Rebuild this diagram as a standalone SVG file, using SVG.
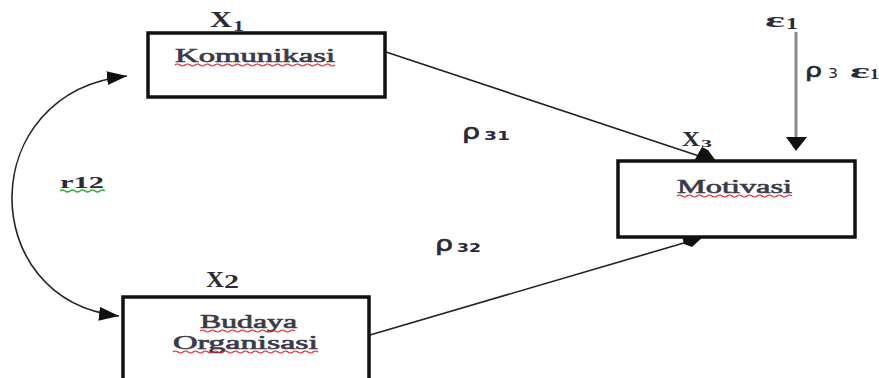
<svg xmlns="http://www.w3.org/2000/svg" width="879" height="378" viewBox="0 0 879 378">
  <defs>
    <style>
      .box { fill: #ffffff; stroke: #111; stroke-width: 3.5; }
      .lbl { font-family: "Liberation Serif", "DejaVu Serif", serif; fill: #2a2a35; }
      .name { fill: #3a3a48; stroke: #3a3a48; stroke-width: 0.6; }
      .sym { font-family: "DejaVu Sans", "Liberation Sans", sans-serif; fill: #2a2a35; }
      .rho { stroke: #2a2a35; stroke-width: 0.7; }
      .edge { fill: none; stroke: #222; stroke-width: 1.6; }
      .wavy-red { fill: none; stroke: #e0202a; stroke-width: 1.2; }
      .wavy-green { fill: none; stroke: #2fae3a; stroke-width: 1.4; }
    </style>
    <marker id="head" viewBox="0 0 20 14" refX="20" refY="7" markerWidth="20" markerHeight="14" markerUnits="userSpaceOnUse" orient="auto-start-reverse">
      <path d="M0,0 L20,7 L0,14 Z" fill="#111"/>
    </marker>
  </defs>

  <!-- connectors -->
  <g id="connectors">
    <!-- r12: two-headed correlation curve -->
    <path class="edge" d="M127,76 C-25,92 -25,300 119,316" marker-start="url(#head)" marker-end="url(#head)"/>
    <!-- Komunikasi -> Motivasi -->
    <line class="edge" x1="386" y1="52" x2="702" y2="157"/>
    <polygon points="694,161 702,147 708,150 716,161" fill="#111"/>
    <!-- Budaya Organisasi -> Motivasi -->
    <line class="edge" x1="370" y1="335" x2="694" y2="240"/>
    <polygon points="682,236 704,236 692,247 684,244" fill="#111"/>
    <!-- error term -> Motivasi -->
    <line x1="796" y1="32" x2="796" y2="139" stroke="#8a8a8a" stroke-width="3"/>
    <polygon points="786,137 807,137 796,151" fill="#111"/>
  </g>

  <!-- node: Komunikasi (X1) -->
  <g id="komunikasi">
    <rect class="box" x="148" y="33" width="237" height="64"/>
    <text class="lbl" x="210" y="27" font-size="23" font-weight="bold" textLength="22" lengthAdjust="spacingAndGlyphs">X</text>
    <text class="lbl" x="233" y="31" font-size="15" font-weight="bold" textLength="11" lengthAdjust="spacingAndGlyphs">1</text>
    <text class="lbl name" x="175" y="62" font-size="18" textLength="160" lengthAdjust="spacingAndGlyphs">Komunikasi</text>
    <path class="wavy-red" d="M175,65 q2.5,-2 5,0 t5,0 t5,0 t5,0 t5,0 t5,0 t5,0 t5,0 t5,0 t5,0 t5,0 t5,0 t5,0 t5,0 t5,0 t5,0 t5,0 t5,0 t5,0 t5,0 t5,0 t5,0 t5,0 t5,0 t5,0 t5,0 t5,0 t5,0 t5,0 t5,0 t5,0 t5,0"/>
  </g>

  <!-- node: Budaya Organisasi (X2) -->
  <g id="budaya-organisasi">
    <rect class="box" x="123" y="297" width="246" height="95"/>
    <text class="lbl" x="206" y="287" font-size="23" font-weight="bold" textLength="18" lengthAdjust="spacingAndGlyphs">X</text>
    <text class="lbl" x="224" y="288" font-size="18" font-weight="bold" textLength="15" lengthAdjust="spacingAndGlyphs">2</text>
    <text class="lbl name" x="200" y="328" font-size="18" textLength="97" lengthAdjust="spacingAndGlyphs">Budaya</text>
    <path class="wavy-red" d="M200,331 q2.5,-2 5,0 t5,0 t5,0 t5,0 t5,0 t5,0 t5,0 t5,0 t5,0 t5,0 t5,0 t5,0 t5,0 t5,0 t5,0 t5,0 t5,0 t5,0 t5,0"/>
    <text class="lbl name" x="173" y="349" font-size="18" textLength="145" lengthAdjust="spacingAndGlyphs">Organisasi</text>
    <path class="wavy-red" d="M173,352 q2.5,-2 5,0 t5,0 t5,0 t5,0 t5,0 t5,0 t5,0 t5,0 t5,0 t5,0 t5,0 t5,0 t5,0 t5,0 t5,0 t5,0 t5,0 t5,0 t5,0 t5,0 t5,0 t5,0 t5,0 t5,0 t5,0 t5,0 t5,0 t5,0 t5,0"/>
  </g>

  <!-- node: Motivasi (X3) -->
  <g id="motivasi">
    <rect class="box" x="618" y="161" width="237" height="76"/>
    <text class="lbl" x="682" y="146" font-size="20" font-weight="bold" textLength="18" lengthAdjust="spacingAndGlyphs">X</text>
    <text class="lbl" x="701" y="147" font-size="10" font-weight="bold" textLength="11" lengthAdjust="spacingAndGlyphs">3</text>
    <text class="lbl name" x="677" y="193" font-size="18" textLength="115" lengthAdjust="spacingAndGlyphs">Motivasi</text>
    <path class="wavy-red" d="M677,196 q2.5,-2 5,0 t5,0 t5,0 t5,0 t5,0 t5,0 t5,0 t5,0 t5,0 t5,0 t5,0 t5,0 t5,0 t5,0 t5,0 t5,0 t5,0 t5,0 t5,0 t5,0 t5,0 t5,0 t5,0"/>
  </g>

  <!-- node: error term -->
  <g id="epsilon">
    <text class="lbl" x="765" y="27" font-size="22" font-weight="bold" textLength="20" lengthAdjust="spacingAndGlyphs">ε</text>
    <text class="lbl" x="786" y="29" font-size="16" font-weight="bold" textLength="12" lengthAdjust="spacingAndGlyphs">1</text>
  </g>

  <!-- path coefficients -->
  <g id="coefficients">
    <text class="sym rho" x="805" y="77" font-size="20" textLength="17" lengthAdjust="spacingAndGlyphs">ρ</text>
    <text class="sym" x="828" y="78" font-size="14" textLength="10" lengthAdjust="spacingAndGlyphs">3</text>
    <text class="lbl" x="850" y="78" font-size="22" font-weight="bold" textLength="20" lengthAdjust="spacingAndGlyphs">ε</text>
    <text class="lbl" x="870" y="79" font-size="15" font-weight="bold" textLength="9" lengthAdjust="spacingAndGlyphs">1</text>

    <text class="sym rho" x="462" y="139" font-size="22" textLength="18" lengthAdjust="spacingAndGlyphs">ρ</text>
    <text class="sym" x="484" y="140" font-size="13" font-weight="bold" textLength="26" lengthAdjust="spacingAndGlyphs">31</text>

    <text class="sym rho" x="435" y="251" font-size="22" textLength="18" lengthAdjust="spacingAndGlyphs">ρ</text>
    <text class="sym" x="457" y="252" font-size="13" font-weight="bold" textLength="24" lengthAdjust="spacingAndGlyphs">32</text>

    <text class="lbl" x="60" y="188" font-size="17" font-weight="bold" textLength="44" lengthAdjust="spacingAndGlyphs">r12</text>
    <path class="wavy-green" d="M60,191 q2.5,-2 5,0 t5,0 t5,0 t5,0 t5,0 t5,0 t5,0 t5,0 t5,0"/>
  </g>
</svg>
